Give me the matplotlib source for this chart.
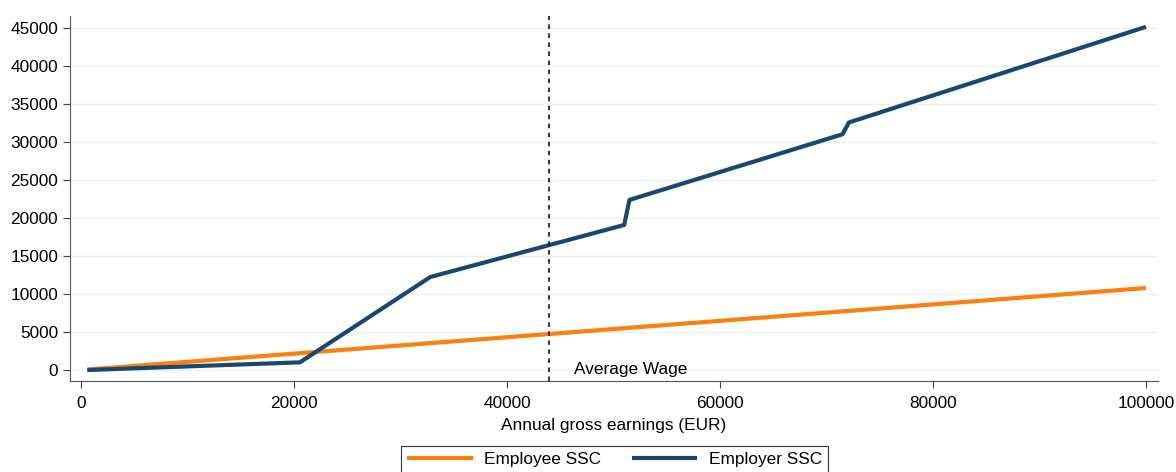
import numpy as np
import matplotlib
matplotlib.use('Agg')
import matplotlib.pyplot as plt

plt.rcParams['font.family'] = ['Liberation Sans', 'DejaVu Sans']

# annual gross earnings (EUR) at the line break points
employee_x = [600, 100000]
employee_y = [60, 10800]

employer_x = [600, 20560, 32800, 51000, 51500, 71500, 72100, 100000]
employer_y = [0, 1010, 12250, 19100, 22400, 31050, 32600, 45200]

avg_wage = 43900
label_avg = 'Average Wage'

fs = 12.4

fig = plt.figure(figsize=(11.76, 4.72), dpi=100)
ax = fig.add_axes([0.0595, 0.1934, 0.925, 0.7736])

ax.plot(employee_x, employee_y, color='#ff7f0e', lw=3, label='Employee SSC', solid_capstyle='butt')
ax.plot(employer_x, employer_y, color='#1a476f', lw=3, label='Employer SSC', solid_capstyle='butt')
ax.axvline(avg_wage, color='#222222', lw=1.3, ls=(0, (2.5, 2.5)))
ax.text(46300, -560, label_avg, fontsize=fs, va='baseline', ha='left')

ax.set_xlim(-1030, 101100)
ax.set_ylim(-1410, 46680)
ax.set_xticks(np.arange(0, 100001, 20000))
ax.set_yticks(np.arange(0, 45001, 5000))
ax.tick_params(labelsize=fs, length=5, color='#444444')
ax.tick_params(axis='x', pad=6)
ax.yaxis.grid(True, color='#eaf2f3', lw=1)
ax.set_axisbelow(True)
for s in ['top', 'right']:
    ax.spines[s].set_visible(False)
for s in ['left', 'bottom']:
    ax.spines[s].set_color('#555555')
ax.set_xlabel('Annual gross earnings (EUR)', fontsize=fs, labelpad=5)

leg = fig.legend(loc='upper center', bbox_to_anchor=(0.5225, 0.056), ncol=2,
                 fontsize=fs, frameon=True, fancybox=False, edgecolor='black',
                 handlelength=3.8, handletextpad=0.65, columnspacing=1.8,
                 borderpad=0.35, borderaxespad=0)
leg.get_frame().set_linewidth(0.8)

fig.savefig('out.png', dpi=100)
